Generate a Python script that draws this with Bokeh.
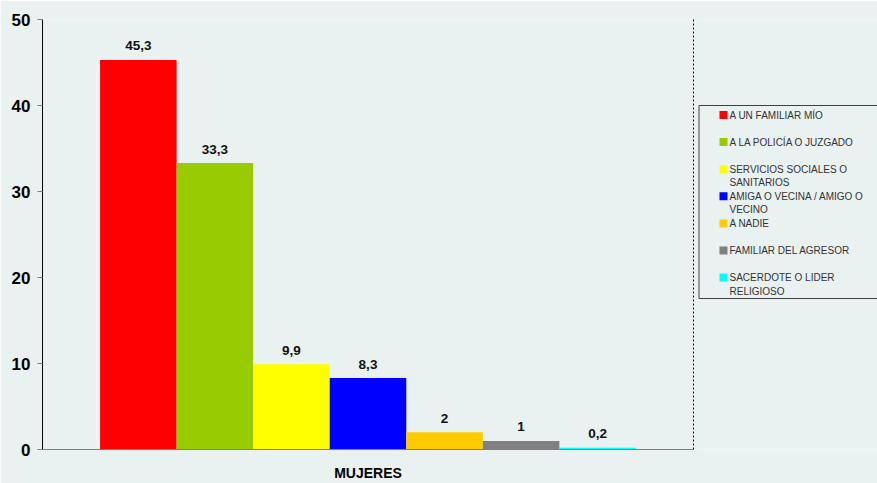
from bokeh.plotting import figure
from bokeh.models import ColumnDataSource, Range1d, LinearAxis, FactorRange, FixedTicker
from bokeh.layouts import row
from bokeh.transform import dodge
from bokeh.core.properties import value
from bokeh.embed import file_html
from bokeh.resources import INLINE

group = "MUJERES"
categories = [
    "A UN FAMILIAR MÍO",
    "A LA POLICÍA O JUZGADO",
    "SERVICIOS SOCIALES O\nSANITARIOS",
    "AMIGA O VECINA / AMIGO O\nVECINO",
    "A NADIE",
    "FAMILIAR DEL AGRESOR",
    "SACERDOTE O LIDER\nRELIGIOSO",
]
values = [45.3, 33.3, 9.9, 8.3, 2, 1, 0.2]
colors = ["#FF0000", "#99CC00", "#FFFF00", "#0000FF", "#FFCC00", "#808080", "#00FFFF"]
y_ticks = [0, 10, 20, 30, 40, 50]

BG = "#EAF1F1"
FONT = "Liberation Sans"
TOP, BOTTOM = 19, 34

# ---------------- main chart ----------------
p = figure(width=698, height=483,
           x_range=FactorRange(group, range_padding=0),
           y_range=Range1d(0, 50),
           output_backend="svg", toolbar_location=None,
           min_border_left=42, min_border_right=5,
           min_border_top=TOP, min_border_bottom=BOTTOM,
           background_fill_color=BG, border_fill_color=BG,
           outline_line_color=None)
p.grid.visible = False

n = len(values)
w = 0.1176
for i in range(n):
    off = (i - (n - 1) / 2) * w
    lab = f"{values[i]:g}".replace(".", ",")
    src = ColumnDataSource(dict(x=[group], top=[values[i]], label=[lab]))
    p.vbar(x=dodge("x", off, range=p.x_range), top="top", width=w,
           source=src, fill_color=colors[i], line_color=None)
    p.text(x=dodge("x", off, range=p.x_range), y="top", text="label", source=src,
           text_align="center", text_baseline="middle", y_offset=-14,
           text_font=value(FONT), text_font_size="13.5px", text_font_style="bold",
           text_color="#111111")

ya = p.yaxis[0]
ya.ticker = FixedTicker(ticks=y_ticks)
ya.axis_line_color = "#000000"
ya.major_tick_line_color = "#808080"
ya.major_tick_out = 5
ya.major_tick_in = 0
ya.minor_tick_line_color = None
ya.major_label_text_font = FONT
ya.major_label_text_font_size = "17px"
ya.major_label_text_font_style = "bold"
ya.major_label_text_color = "#000000"
ya.major_label_standoff = 7

xa = p.xaxis[0]
xa.axis_line_color = "#808080"
xa.major_tick_line_color = None
xa.major_tick_out = 0
xa.major_label_text_font = FONT
xa.major_label_text_font_size = "14px"
xa.major_label_text_font_style = "bold"
xa.major_label_text_color = "#000000"
xa.major_label_standoff = 15

ra = LinearAxis(ticker=FixedTicker(ticks=[]), major_tick_line_color=None,
                minor_tick_line_color=None, axis_line_dash="2 2",
                axis_line_color="#000000")
p.add_layout(ra, "right")

# ---------------- legend panel (pixel-like coordinates) ----------------
LW, LH = 180, 483
lg = figure(width=LW, height=LH, x_range=Range1d(0, LW),
            y_range=Range1d(LH - BOTTOM, TOP),
            output_backend="svg", toolbar_location=None,
            min_border_left=0, min_border_right=0,
            min_border_top=TOP, min_border_bottom=BOTTOM,
            background_fill_color=BG, border_fill_color=BG,
            outline_line_color=None, margin=(0, 0, 0, -1))
lg.axis.visible = False
lg.grid.visible = False

box_top, box_bottom = 105, 298
lg.quad(left=[1.5], right=[LW + 20], top=[box_top], bottom=[box_bottom],
        fill_color=None, line_color="#404040", line_width=1)

first_y, pitch, line_gap = 114.5, 27.1, 13.5
sq_x, sq_size, txt_x = 26, 8, 32
sq_xs, sq_ys, tx, ty, tt = [], [], [], [], []
for i, lab in enumerate(categories):
    y0 = first_y + i * pitch
    sq_xs.append(sq_x)
    sq_ys.append(y0)
    for j, line in enumerate(lab.split("\n")):
        tx.append(txt_x)
        ty.append(y0 + j * line_gap)
        tt.append(line)

lg.rect(x=sq_xs, y=sq_ys, width=sq_size, height=sq_size,
        width_units="screen", height_units="screen",
        fill_color=colors, line_color=None)
lg.text(x=tx, y=ty, text=tt, text_align="left", text_baseline="middle",
        text_font=value(FONT), text_font_size="10px", text_color="#333333")

layout = row(p, lg, spacing=0)
open("out.html", "w").write(file_html(layout, INLINE))
